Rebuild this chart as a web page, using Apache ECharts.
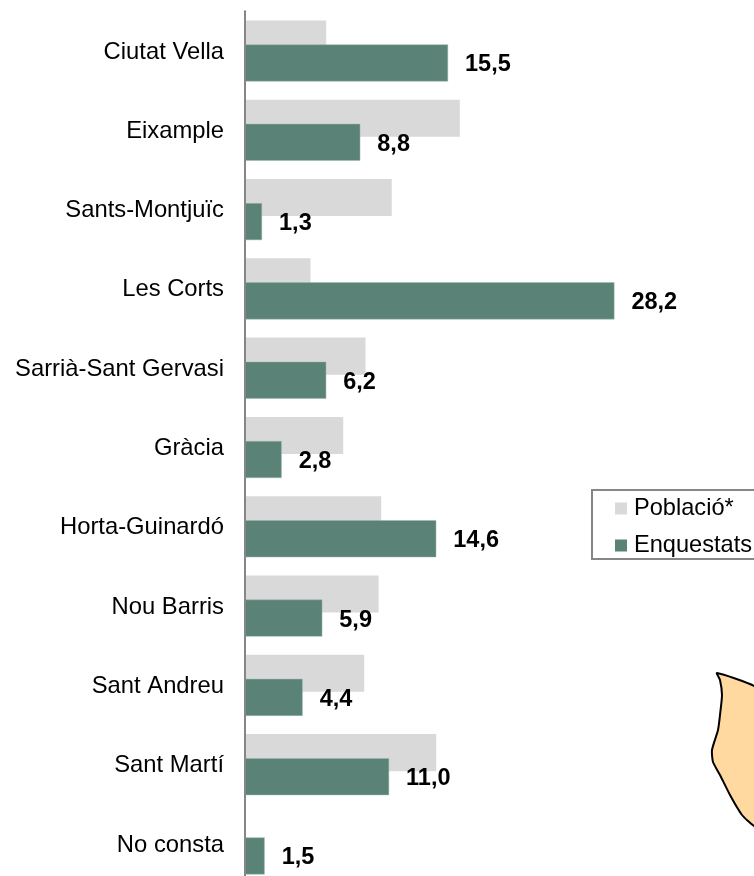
<!DOCTYPE html>
<html><head><meta charset="utf-8">
<style>html,body{margin:0;padding:0;background:#fff}#c{width:754px;height:876px}</style>
<script src="https://cdn.jsdelivr.net/npm/echarts@6/dist/echarts.min.js"></script>
</head><body><div id="c"></div>
<script>
const categories = ["Ciutat Vella","Eixample","Sants-Montjuïc","Les Corts","Sarrià-Sant Gervasi","Gràcia","Horta-Guinardó","Nou Barris","Sant Andreu","Sant Martí","No consta"];
const poblacio = [6.2,16.4,11.2,5.0,9.2,7.5,10.4,10.2,9.1,14.6,null];
const enquestats = [15.5,8.8,1.3,28.2,6.2,2.8,14.6,5.9,4.4,11.0,1.5];
const font = '"Liberation Sans", Arial, sans-serif';
const chart = echarts.init(document.getElementById('c'), null, {renderer:'canvas'});
chart.setOption({
  animation:false,
  backgroundColor:'#fff',
  grid:{left:245,top:11.3,width:393,height:872.3,containLabel:false,outerBoundsMode:'none'},
  xAxis:{type:'value',min:0,max:30,show:false},
  yAxis:{type:'category',inverse:true,data:categories,z:5,
    axisLine:{show:true,lineStyle:{color:'#868686',width:2}},
    axisTick:{show:false},
    axisLabel:{color:'#000',fontFamily:font,fontSize:23.8,margin:21,verticalAlign:'top',lineHeight:2}},
  legend:{orient:'vertical',left:592,top:490,padding:[5,40,0,23],itemWidth:12,itemHeight:12,itemGap:10,
    backgroundColor:'#fff',borderColor:'#868686',borderWidth:2,borderRadius:0,
    textStyle:{color:'#000',fontFamily:font,fontSize:23.6,lineHeight:24,padding:[3,0,0,2]},
    itemStyle:{borderWidth:0},
    data:[{name:'Població*',icon:'rect'},{name:'Enquestats',icon:'rect'}]},
  series:[
    {name:'Població*',type:'bar',data:poblacio,barGap:'-35%',barCategoryGap:'23%',
     itemStyle:{color:'#D9D9D9'}},
    {name:'Enquestats',type:'bar',data:enquestats,
     itemStyle:{color:'#5A8276',borderColor:'#9DB8AF',borderWidth:0.5},
     label:{show:true,position:'right',distance:17,offset:[0,2],color:'#000',fontFamily:font,fontSize:23.5,fontWeight:'bold',
       formatter:p=>p.value.toFixed(1).replace('.',',')}}
  ],
  graphic:[{type:'polygon',silent:true,z:5,
    shape:{smooth:0.2,points:[[717,673],[754,686],[765,700],[765,830],[754,826],[742,815],[730,795],[720,775],[713,762],[712,750],[718,730],[720,715],[722,695],[720,680]]},
    style:{fill:'#FFD99F',stroke:'#000',lineWidth:2}}]
});
</script></body></html>
